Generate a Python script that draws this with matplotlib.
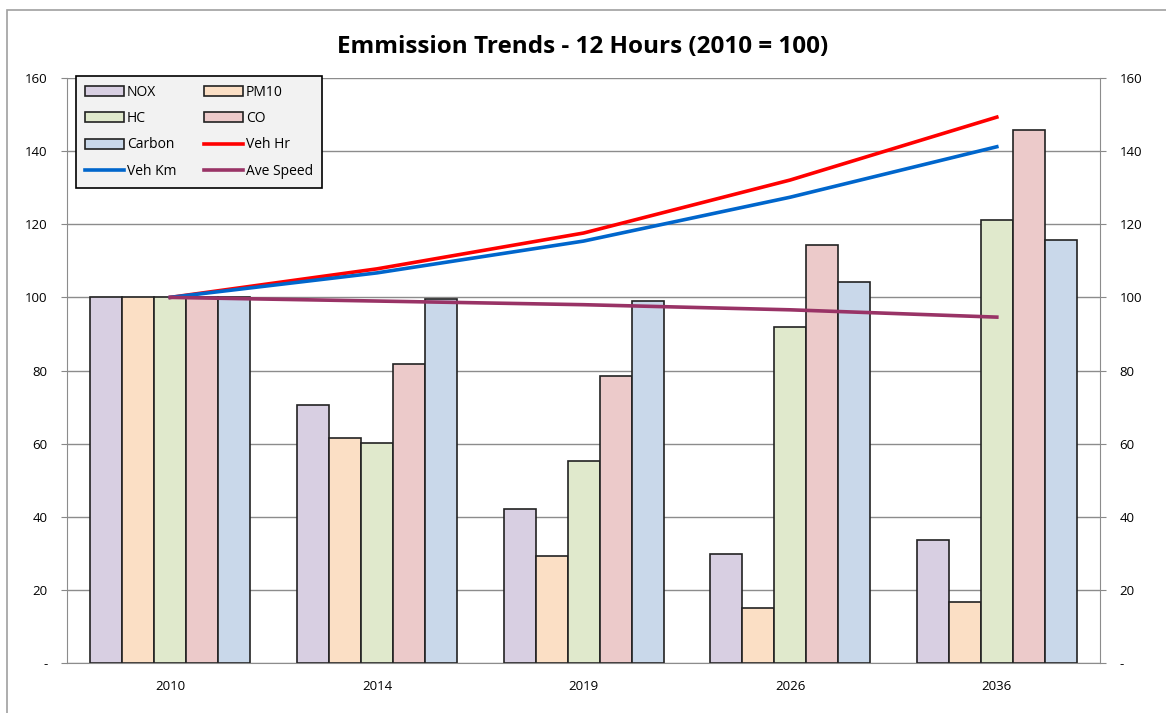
import matplotlib.pyplot as plt
import matplotlib.patches as mpatches
import numpy as np

years = ["2010", "2014", "2019", "2026", "2036"]

nox = [100, 70.7, 42.0, 29.7, 33.6]
pm10 = [100, 61.6, 29.4, 15.1, 16.6]
hc = [100, 60.1, 55.2, 92.0, 121.2]
co = [100, 81.7, 78.6, 114.4, 145.8]
carbon = [100, 99.5, 99.0, 104.1, 115.7]

veh_hr = [100, 107.8, 117.6, 132.1, 149.3]
veh_km = [100, 106.7, 115.4, 127.4, 141.2]
ave_speed = [100, 99.0, 98.0, 96.6, 94.6]

bar_series = [("NOX", nox, "#d8cfe2"), ("PM10", pm10, "#fbdfc5"),
              ("HC", hc, "#e0e9cc"), ("CO", co, "#eccaca"),
              ("Carbon", carbon, "#c9d8ea")]
line_series = [("Veh Hr", veh_hr, "#ff0000"), ("Veh Km", veh_km, "#0066cc"),
               ("Ave Speed", ave_speed, "#993366")]

plt.rcParams["font.family"] = ["Open Sans", "DejaVu Sans"]

fig = plt.figure(figsize=(11.66, 7.13), dpi=100)
ax = fig.add_axes([0.0575, 0.0701, 0.886, 0.8205])

# outer chart border like the spreadsheet chart area
fig.patches.append(mpatches.Rectangle((7 / 1166, -0.01), 1.02, 1 - 10 / 713 + 0.01,
                                      transform=fig.transFigure, fill=False,
                                      edgecolor="#a0a0a0", linewidth=1.2))

x = np.arange(len(years))
width = 0.155
handles = {}
for i, (name, values, color) in enumerate(bar_series):
    b = ax.bar(x + (i - 2) * width, values, width, color=color,
               edgecolor="#222222", linewidth=1.2, zorder=2)
    handles[name] = b

for name, values, color in line_series:
    l, = ax.plot(x, values, color=color, linewidth=2.6, zorder=3)
    handles[name] = l

ax.set_xlim(-0.5, 4.5)
ax.set_ylim(0, 160)
ax.set_xticks(x)
ax.set_xticklabels(years, fontsize=9.5)
ax.set_yticks(range(0, 161, 20))
ylabels = ["-"] + [str(v) for v in range(20, 161, 20)]
ax.set_yticklabels(ylabels, fontsize=9.5)
ax.tick_params(axis="y", which="both", left=True, right=True, labelleft=True,
               labelright=True, length=4, color="#888888", pad=10)
ax.tick_params(axis="x", length=0, pad=12)
ax.yaxis.grid(True, color="#8c8c8c", linewidth=1, zorder=0)
ax.set_axisbelow(True)
for s in ax.spines.values():
    s.set_color("#8c8c8c")
ax.spines["top"].set_visible(False)

fig.text(0.5, 0.934, "Emmission Trends - 12 Hours (2010 = 100)", ha="center",
         va="center", fontsize=17.5, fontweight="bold")

order = ["NOX", "HC", "Carbon", "Veh Km", "PM10", "CO", "Veh Hr", "Ave Speed"]
leg = ax.legend([handles[k] for k in order], order, ncol=2, loc="upper left",
                bbox_to_anchor=(0.009, 1.004), borderaxespad=0, fontsize=10,
                frameon=True, fancybox=False, edgecolor="black",
                facecolor="#f2f2f2", framealpha=1, handlelength=2.8,
                handleheight=0.75, labelspacing=0.82, columnspacing=2.0,
                handletextpad=0.2, borderpad=0.65)
leg.get_frame().set_linewidth(1.2)
leg.set_zorder(5)

plt.savefig("out.png", dpi=100)
